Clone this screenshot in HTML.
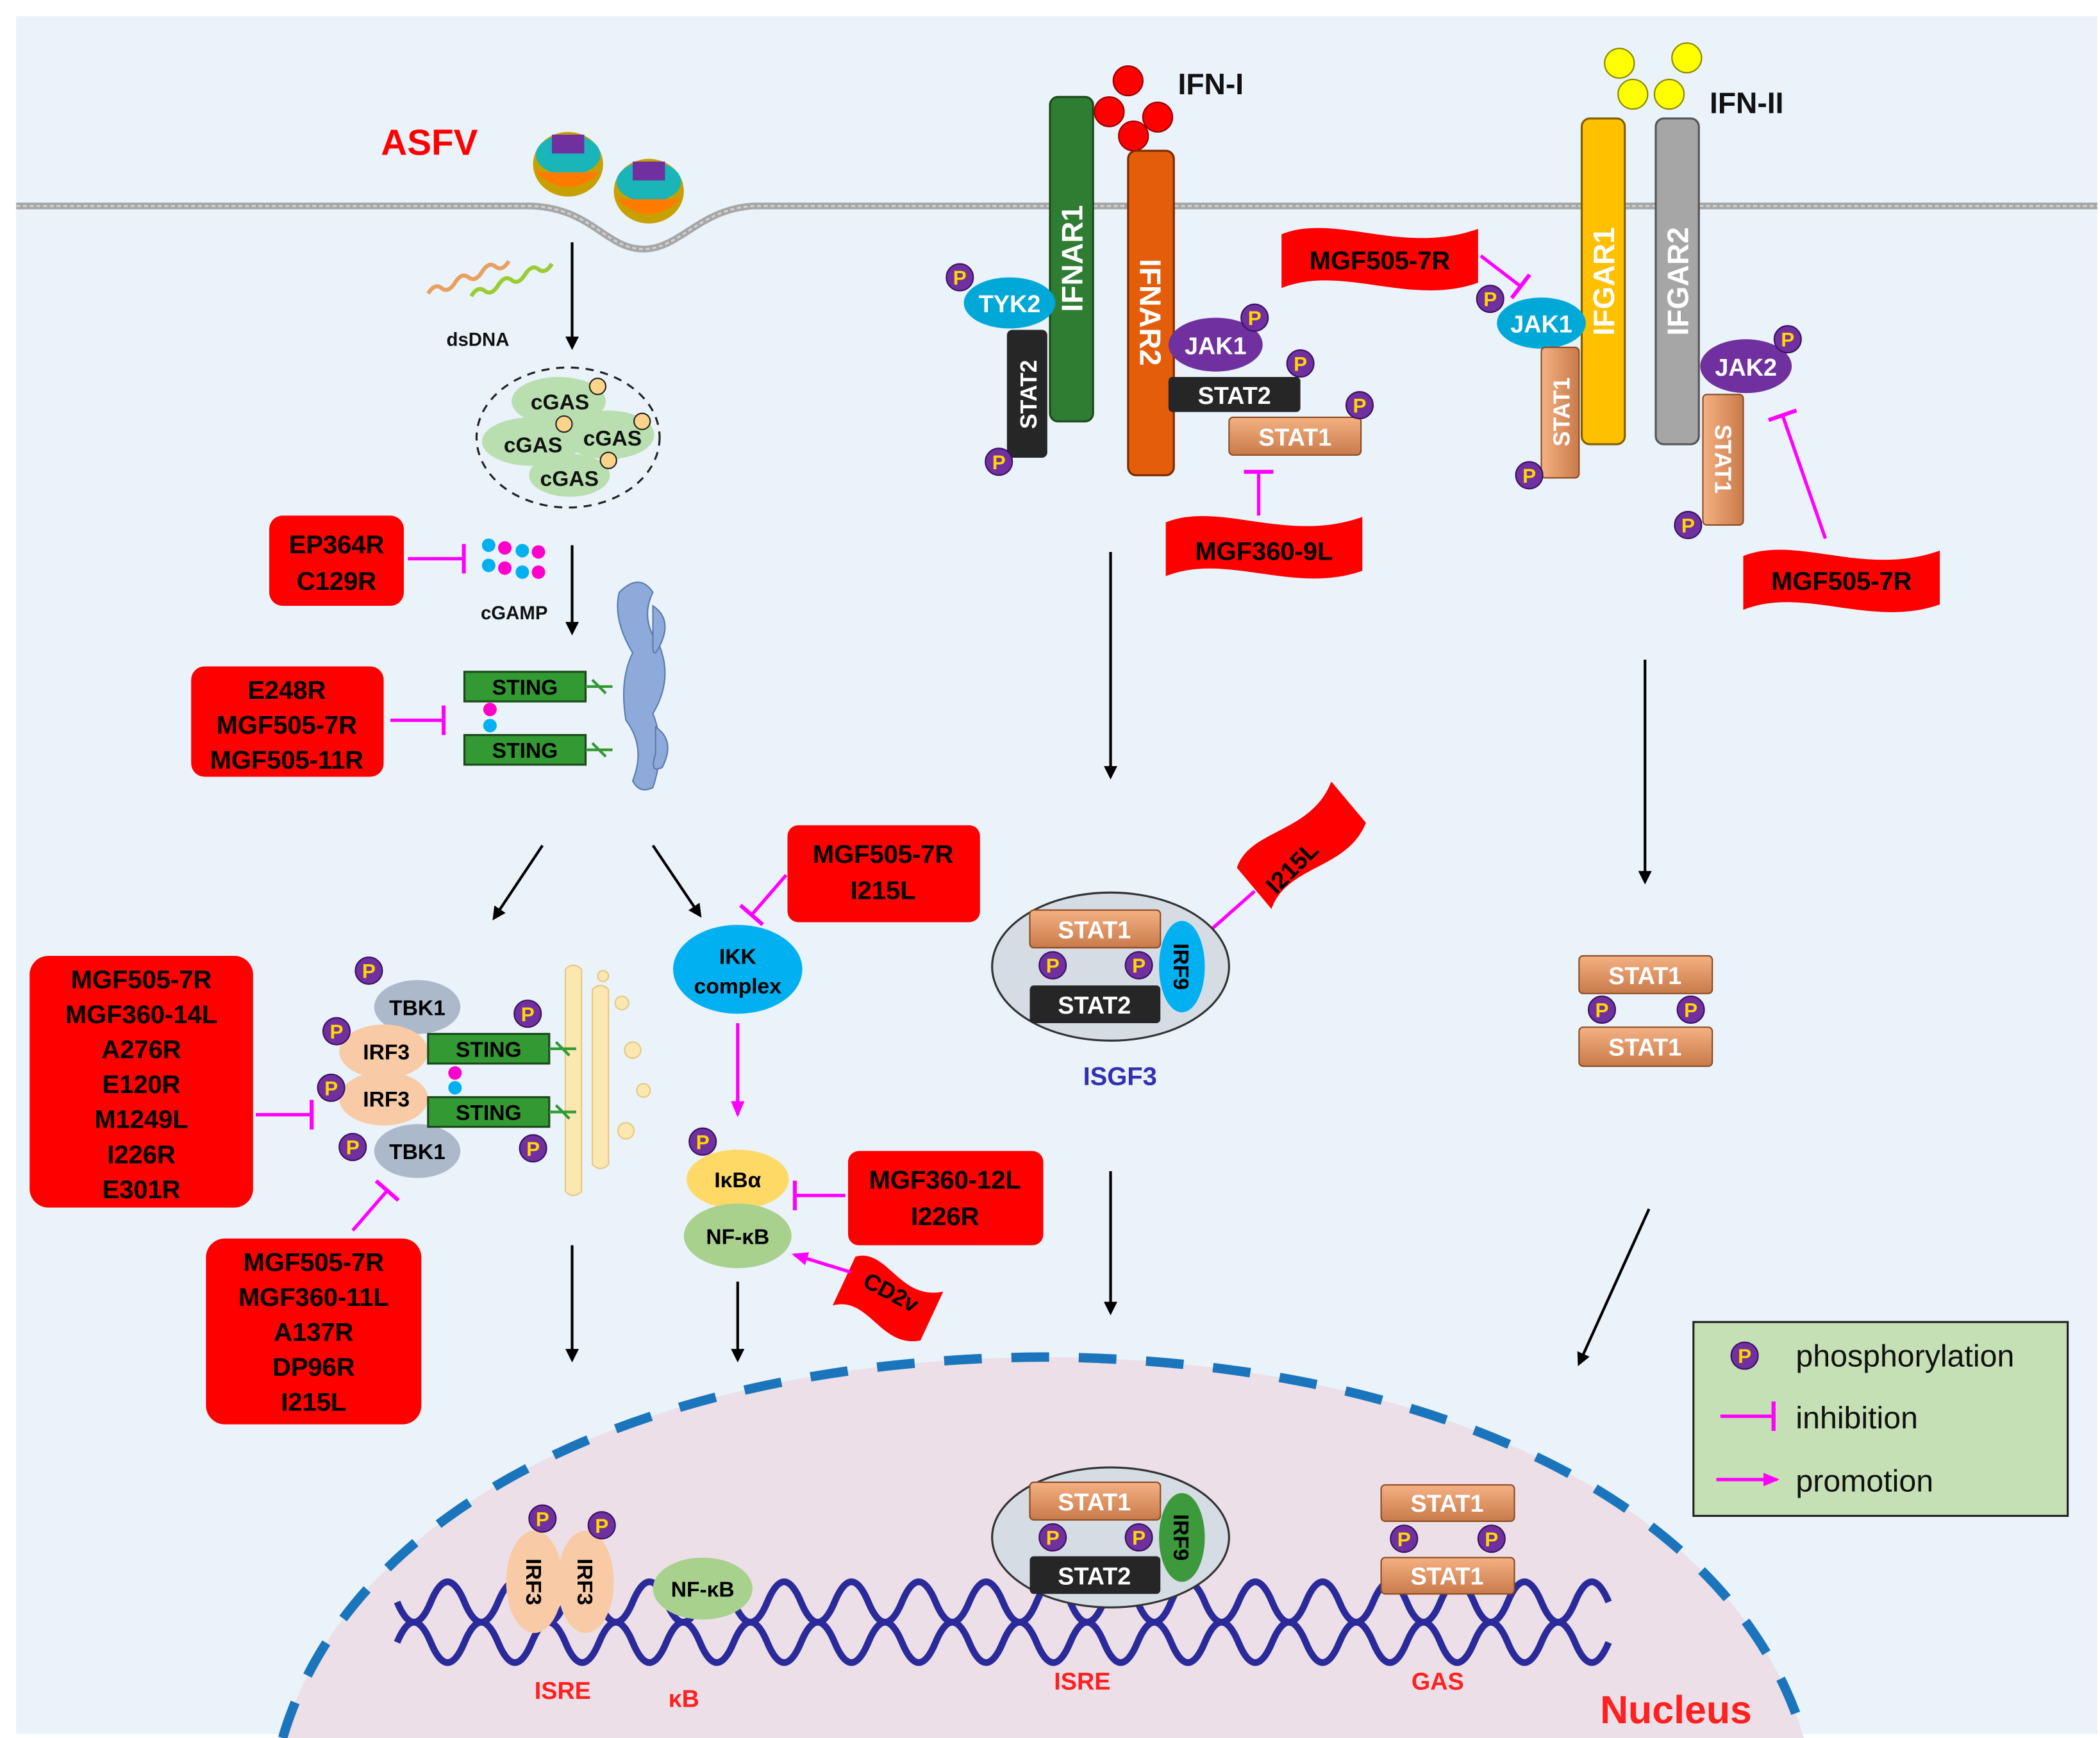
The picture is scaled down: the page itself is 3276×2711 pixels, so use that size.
<!DOCTYPE html>
<html><head><meta charset="utf-8"><style>
html,body{margin:0;padding:0;background:#fff}
svg{display:block}
text{font-family:"Liberation Sans",Arial,sans-serif;font-weight:bold}
</style></head><body>
<svg width="3276" height="2711" viewBox="0 0 1560 1291" preserveAspectRatio="none" xmlns="http://www.w3.org/2000/svg">
<defs>
<marker id="ab" markerWidth="10" markerHeight="10" refX="8" refY="5" orient="auto" markerUnits="userSpaceOnUse"><path d="M0,0 L10,5 L0,10 Z" fill="#000"/></marker>
<marker id="am" markerWidth="12" markerHeight="10" refX="10" refY="5" orient="auto" markerUnits="userSpaceOnUse"><path d="M0,0 L12,5 L0,10 Z" fill="#ff00ff"/></marker>
<marker id="bar" markerWidth="4" markerHeight="22" refX="2" refY="11" orient="auto" markerUnits="userSpaceOnUse"><rect x="0" y="0" width="3" height="22" fill="#ff00ff"/></marker>
<linearGradient id="st1" x1="0" y1="0" x2="0" y2="1"><stop offset="0" stop-color="#f4b183"/><stop offset="1" stop-color="#c97a4a"/></linearGradient>
<linearGradient id="st1v" x1="0" y1="0" x2="1" y2="0"><stop offset="0" stop-color="#f4b183"/><stop offset="1" stop-color="#c97a4a"/></linearGradient>
<g id="P"><circle r="10" fill="#7030a0" stroke="#3a1060" stroke-width="1"/><text x="0" y="5.5" font-size="15" fill="#ffd700" text-anchor="middle">P</text></g>
<path id="flag" d="M0,6 C40,-10 90,22 146,2 L146,42 C95,60 45,28 0,46 Z" fill="#ff0000"/>
</defs>
<rect x="12" y="12" width="1546" height="1276" fill="#eaf2fa"/>
<!-- nucleus -->
<path d="M210,1291 C260,1120 480,1010 775,1008 C1070,1010 1290,1120 1340,1291 Z" fill="#ecdfe7"/>
<path d="M210,1291 C260,1120 480,1010 775,1008 C1070,1010 1290,1120 1340,1291" fill="none" stroke="#1a75bc" stroke-width="7" stroke-dasharray="28,22"/>
<!-- membrane -->
<path d="M12,153 L395,153 C440,155 450,185 478,185 C505,185 520,155 560,153 L1558,153" fill="none" stroke="#a6a6a6" stroke-width="5"/>
<path d="M12,153 L395,153 C440,155 450,185 478,185 C505,185 520,155 560,153 L1558,153" fill="none" stroke="#d0d0d0" stroke-width="1.5" stroke-dasharray="3,2"/>
<text x="283" y="115" font-size="27" fill="#ff0000">ASFV</text>
<!-- viruses -->
<g><ellipse cx="422" cy="122" rx="26" ry="24" fill="#c8a000"/><ellipse cx="422" cy="115" rx="24" ry="15" fill="#19b5b8"/><rect x="410" y="100" width="24" height="14" fill="#7030a0"/><path d="M398,128 Q422,150 446,128" fill="#ff7b00"/></g>
<g><ellipse cx="482" cy="142" rx="26" ry="24" fill="#c8a000"/><ellipse cx="482" cy="135" rx="24" ry="15" fill="#19b5b8"/><rect x="470" y="120" width="24" height="14" fill="#7030a0"/><path d="M458,148 Q482,170 506,148" fill="#ff7b00"/></g>
<!-- dsDNA -->
<path d="M318,218 q5,-8 10,-4 t10,-4 t10,-4 t10,-4 t10,-4 t10,-4" fill="none" stroke="#e8a060" stroke-width="3"/>
<path d="M350,220 q5,-8 10,-4 t10,-4 t10,-4 t10,-4 t10,-4 t10,-4" fill="none" stroke="#9acd32" stroke-width="3"/>
<text x="355" y="257" font-size="14" fill="#111" text-anchor="middle">dsDNA</text>
<line x1="425" y1="180" x2="425" y2="258" stroke="#000" stroke-width="2" marker-end="url(#ab)"/>
<!-- cGAS -->
<ellipse cx="422" cy="325" rx="68" ry="52" fill="none" stroke="#222" stroke-width="1.5" stroke-dasharray="6,5"/>
<ellipse cx="415" cy="298" rx="35" ry="18" fill="#b9dfb0"/><ellipse cx="395" cy="328" rx="37" ry="18" fill="#b9dfb0"/><ellipse cx="452" cy="323" rx="34" ry="18" fill="#b9dfb0"/><ellipse cx="423" cy="353" rx="30" ry="16" fill="#b9dfb0"/>
<text x="416" y="304" font-size="16" fill="#111" text-anchor="middle">cGAS</text>
<text x="396" y="336" font-size="16" fill="#111" text-anchor="middle">cGAS</text>
<text x="455" y="331" font-size="16" fill="#111" text-anchor="middle">cGAS</text>
<text x="423" y="361" font-size="16" fill="#111" text-anchor="middle">cGAS</text>
<g fill="#fbd38a" stroke="#222" stroke-width="1"><circle cx="444" cy="287" r="6"/><circle cx="419" cy="315" r="6"/><circle cx="477" cy="313" r="6"/><circle cx="452" cy="342" r="6"/></g>
<line x1="425" y1="405" x2="425" y2="470" stroke="#000" stroke-width="2" marker-end="url(#ab)"/>
<!-- EP364R -->
<rect x="200" y="383" width="100" height="67" rx="10" fill="#ff0000"/>
<text x="250" y="411" font-size="19" text-anchor="middle">EP364R</text><text x="250" y="438" font-size="19" text-anchor="middle">C129R</text>
<line x1="303" y1="415" x2="345" y2="415" stroke="#ff00ff" stroke-width="2.5" marker-end="url(#bar)"/>
<g><circle cx="363" cy="405" r="5" fill="#00b0f0"/><circle cx="375" cy="407" r="5" fill="#ff00cc"/><circle cx="388" cy="409" r="5" fill="#00b0f0"/><circle cx="400" cy="410" r="5" fill="#ff00cc"/><circle cx="363" cy="420" r="5" fill="#00b0f0"/><circle cx="375" cy="422" r="5" fill="#ff00cc"/><circle cx="388" cy="425" r="5" fill="#00b0f0"/><circle cx="400" cy="425" r="5" fill="#ff00cc"/></g>
<text x="382" y="460" font-size="14" fill="#111" text-anchor="middle">cGAMP</text>
<!-- ER -->
<g fill="#8eaadb" stroke="#5a7ab0" stroke-width="1"><path d="M460,440 q15,-15 25,0 q-10,20 5,40 q10,25 -5,50 q10,25 0,55 q-10,5 -15,-5 q10,-25 -5,-45 q-5,-30 5,-50 q-15,-25 -10,-45z"/><path d="M485,450 q15,10 5,30 q-5,10 -5,0z"/><path d="M487,540 q15,10 5,30 q-10,5 -5,-10z"/></g>
<!-- STING 1 -->
<rect x="345" y="499" width="90" height="22" fill="#339933" stroke="#1a4a1a" stroke-width="1.5"/><text x="390" y="516" font-size="16" text-anchor="middle">STING</text>
<rect x="345" y="546" width="90" height="22" fill="#339933" stroke="#1a4a1a" stroke-width="1.5"/><text x="390" y="563" font-size="16" text-anchor="middle">STING</text>
<path d="M435,510 l20,0 M440,505 l10,10 M435,557 l20,0 M440,552 l10,10" stroke="#339933" stroke-width="2"/>
<circle cx="364" cy="527" r="5" fill="#ff00cc"/><circle cx="364" cy="539" r="5" fill="#00b0f0"/>
<rect x="142" y="495" width="143" height="82" rx="10" fill="#ff0000"/>
<text x="213" y="519" font-size="19" text-anchor="middle">E248R</text><text x="213" y="545" font-size="19" text-anchor="middle">MGF505-7R</text><text x="213" y="571" font-size="19" text-anchor="middle">MGF505-11R</text>
<line x1="290" y1="535" x2="330" y2="535" stroke="#ff00ff" stroke-width="2.5" marker-end="url(#bar)"/>
<line x1="403" y1="628" x2="367" y2="682" stroke="#000" stroke-width="2" marker-end="url(#ab)"/>
<line x1="485" y1="628" x2="520" y2="680" stroke="#000" stroke-width="2" marker-end="url(#ab)"/>
<!-- IKK -->
<rect x="585" y="613" width="143" height="72" rx="8" fill="#ff0000"/>
<text x="656" y="641" font-size="19" text-anchor="middle">MGF505-7R</text><text x="656" y="668" font-size="19" text-anchor="middle">I215L</text>
<line x1="584" y1="650" x2="558" y2="680" stroke="#ff00ff" stroke-width="2.5" marker-end="url(#bar)"/>
<ellipse cx="548" cy="720" rx="48" ry="33" fill="#00b0f0"/>
<text x="548" y="716" font-size="16" text-anchor="middle">IKK</text><text x="548" y="738" font-size="16" text-anchor="middle">complex</text>
<line x1="548" y1="760" x2="548" y2="828" stroke="#ff00ff" stroke-width="2.5" marker-end="url(#am)"/>
<ellipse cx="548" cy="876" rx="38" ry="22" fill="#ffd966"/><text x="548" y="882" font-size="16" text-anchor="middle">IκBα</text>
<ellipse cx="548" cy="918" rx="40" ry="24" fill="#a9d18e"/><text x="548" y="924" font-size="16" text-anchor="middle">NF-κB</text>
<use href="#P" x="522" y="848"/>
<rect x="630" y="855" width="145" height="70" rx="8" fill="#ff0000"/>
<text x="702" y="883" font-size="19" text-anchor="middle">MGF360-12L</text><text x="702" y="910" font-size="19" text-anchor="middle">I226R</text>
<line x1="628" y1="888" x2="590" y2="888" stroke="#ff00ff" stroke-width="2.5" marker-end="url(#bar)"/>
<g transform="translate(638,928) rotate(25) scale(0.48,1)"><use href="#flag"/></g>
<text x="0" y="0" font-size="17" transform="translate(640,955) rotate(28)">CD2v</text>
<line x1="632" y1="945" x2="590" y2="932" stroke="#ff00ff" stroke-width="2.5" marker-end="url(#am)"/>
<line x1="548" y1="952" x2="548" y2="1010" stroke="#000" stroke-width="2" marker-end="url(#ab)"/>
<line x1="425" y1="925" x2="425" y2="1010" stroke="#000" stroke-width="2" marker-end="url(#ab)"/>
<!-- left TBK1 complex -->
<g fill="#fbe7b0" stroke="#e8c880" stroke-width="1"><path d="M420,720 q6,-6 12,0 l0,165 q-6,6 -12,0z"/><path d="M440,735 q6,-6 12,0 l0,130 q-6,6 -12,0z"/><circle cx="462" cy="745" r="5"/><circle cx="470" cy="780" r="6"/><circle cx="478" cy="810" r="5"/><circle cx="465" cy="840" r="6"/><circle cx="448" cy="725" r="4"/></g>
<ellipse cx="310" cy="748" rx="32" ry="20" fill="#acb9ca"/><text x="310" y="754" font-size="16" text-anchor="middle">TBK1</text>
<ellipse cx="285" cy="781" rx="33" ry="20" fill="#f8cba6"/><text x="287" y="787" font-size="16" text-anchor="middle">IRF3</text>
<ellipse cx="285" cy="816" rx="33" ry="20" fill="#f8cba6"/><text x="287" y="822" font-size="16" text-anchor="middle">IRF3</text>
<ellipse cx="310" cy="855" rx="32" ry="20" fill="#acb9ca"/><text x="310" y="861" font-size="16" text-anchor="middle">TBK1</text>
<rect x="318" y="768" width="90" height="22" fill="#339933" stroke="#1a4a1a" stroke-width="1.5"/><text x="363" y="785" font-size="16" text-anchor="middle">STING</text>
<rect x="318" y="815" width="90" height="22" fill="#339933" stroke="#1a4a1a" stroke-width="1.5"/><text x="363" y="832" font-size="16" text-anchor="middle">STING</text>
<path d="M408,779 l20,0 M413,774 l10,10 M408,826 l20,0 M413,821 l10,10" stroke="#339933" stroke-width="2"/>
<circle cx="338" cy="797" r="5" fill="#ff00cc"/><circle cx="338" cy="808" r="5" fill="#00b0f0"/>
<use href="#P" x="274" y="721"/><use href="#P" x="250" y="766"/><use href="#P" x="246" y="808"/><use href="#P" x="262" y="852"/><use href="#P" x="392" y="753"/><use href="#P" x="396" y="853"/>
<rect x="22" y="710" width="166" height="187" rx="14" fill="#ff0000"/>
<g font-size="19" text-anchor="middle"><text x="105" y="734">MGF505-7R</text><text x="105" y="760">MGF360-14L</text><text x="105" y="786">A276R</text><text x="105" y="812">E120R</text><text x="105" y="838">M1249L</text><text x="105" y="864">I226R</text><text x="105" y="890">E301R</text></g>
<line x1="190" y1="828" x2="232" y2="828" stroke="#ff00ff" stroke-width="2.5" marker-end="url(#bar)"/>
<rect x="153" y="920" width="160" height="138" rx="14" fill="#ff0000"/>
<g font-size="19" text-anchor="middle"><text x="233" y="944">MGF505-7R</text><text x="233" y="970">MGF360-11L</text><text x="233" y="996">A137R</text><text x="233" y="1022">DP96R</text><text x="233" y="1048">I215L</text></g>
<line x1="262" y1="914" x2="288" y2="884" stroke="#ff00ff" stroke-width="2.5" marker-end="url(#bar)"/>
<!-- IFN-I -->
<g fill="#ff0000" stroke="#900" stroke-width="1"><circle cx="838" cy="60" r="11"/><circle cx="824" cy="83" r="11"/><circle cx="860" cy="87" r="11"/><circle cx="842" cy="101" r="11"/></g>
<text x="875" y="70" font-size="22" fill="#111">IFN-I</text>
<rect x="780" y="72" width="32" height="241" rx="6" fill="#2e7d32" stroke="#1a4a1a" stroke-width="1.5"/>
<text transform="translate(804,192) rotate(-90)" font-size="22" fill="#fff" text-anchor="middle">IFNAR1</text>
<rect x="838" y="112" width="34" height="241" rx="6" fill="#e35d0a" stroke="#7a2a00" stroke-width="1.5"/>
<text transform="translate(847,232) rotate(90)" font-size="22" fill="#fff" text-anchor="middle">IFNAR2</text>
<ellipse cx="750" cy="225" rx="34" ry="19" fill="#00a8d8"/><text x="750" y="232" font-size="18" fill="#fff" text-anchor="middle">TYK2</text>
<rect x="748" y="245" width="30" height="95" rx="4" fill="#262626"/>
<text transform="translate(770,293) rotate(-90)" font-size="17" fill="#fff" text-anchor="middle">STAT2</text>
<use href="#P" x="713" y="206"/><use href="#P" x="742" y="343"/>
<ellipse cx="903" cy="256" rx="35" ry="20" fill="#7030a0"/><text x="903" y="263" font-size="18" fill="#fff" text-anchor="middle">JAK1</text>
<use href="#P" x="932" y="236"/>
<rect x="868" y="280" width="98" height="26" rx="3" fill="#262626"/><text x="917" y="300" font-size="18" fill="#fff" text-anchor="middle">STAT2</text>
<use href="#P" x="966" y="270"/>
<rect x="913" y="310" width="98" height="28" rx="3" fill="url(#st1)" stroke="#8a4a20" stroke-width="1"/><text x="962" y="331" font-size="18" fill="#fff" text-anchor="middle">STAT1</text>
<use href="#P" x="1010" y="301"/>
<g transform="translate(866,382)"><use href="#flag"/></g>
<text x="939" y="416" font-size="19" text-anchor="middle">MGF360-9L</text>
<line x1="935" y1="383" x2="935" y2="350" stroke="#ff00ff" stroke-width="2.5" marker-end="url(#bar)"/>
<line x1="825" y1="410" x2="825" y2="577" stroke="#000" stroke-width="2" marker-end="url(#ab)"/>
<!-- I215L flag -->
<g transform="translate(915,640) rotate(-40) scale(0.65,1)"><use href="#flag"/></g>
<text transform="translate(948,665) rotate(-45)" font-size="18">I215L</text>
<line x1="932" y1="662" x2="898" y2="692" stroke="#ff00ff" stroke-width="2.5" marker-end="url(#bar)"/>
<!-- ISGF3 -->
<ellipse cx="825" cy="718" rx="88" ry="55" fill="#d6dce4" stroke="#333" stroke-width="1.5"/>
<rect x="765" y="676" width="97" height="28" rx="3" fill="url(#st1)" stroke="#8a4a20"/><text x="813" y="697" font-size="18" fill="#fff" text-anchor="middle">STAT1</text>
<rect x="765" y="732" width="97" height="28" rx="3" fill="#262626"/><text x="813" y="753" font-size="18" fill="#fff" text-anchor="middle">STAT2</text>
<ellipse cx="878" cy="718" rx="17" ry="34" fill="#00b0f0"/><text transform="translate(872,718) rotate(90)" font-size="16" text-anchor="middle">IRF9</text>
<use href="#P" x="782" y="717"/><use href="#P" x="846" y="717"/>
<text x="832" y="806" font-size="19" fill="#3030b0" text-anchor="middle">ISGF3</text>
<line x1="825" y1="870" x2="825" y2="975" stroke="#000" stroke-width="2" marker-end="url(#ab)"/>
<!-- IFN-II -->
<g fill="#ffff00" stroke="#888800" stroke-width="1"><circle cx="1203" cy="47" r="11"/><circle cx="1253" cy="43" r="11"/><circle cx="1213" cy="70" r="11"/><circle cx="1240" cy="70" r="11"/></g>
<text x="1270" y="84" font-size="22" fill="#111">IFN-II</text>
<rect x="1175" y="88" width="32" height="242" rx="6" fill="#ffc000" stroke="#806000" stroke-width="1.5"/>
<text transform="translate(1199,209) rotate(-90)" font-size="22" fill="#fff" text-anchor="middle">IFGAR1</text>
<rect x="1230" y="88" width="32" height="242" rx="6" fill="#a6a6a6" stroke="#555" stroke-width="1.5"/>
<text transform="translate(1254,209) rotate(-90)" font-size="22" fill="#fff" text-anchor="middle">IFGAR2</text>
<g transform="translate(952,168)"><use href="#flag"/></g>
<text x="1025" y="200" font-size="19" text-anchor="middle">MGF505-7R</text>
<line x1="1100" y1="190" x2="1130" y2="213" stroke="#ff00ff" stroke-width="2.5" marker-end="url(#bar)"/>
<ellipse cx="1145" cy="240" rx="33" ry="19" fill="#00a8d8"/><text x="1145" y="247" font-size="18" fill="#fff" text-anchor="middle">JAK1</text>
<use href="#P" x="1107" y="222"/>
<rect x="1145" y="258" width="28" height="97" rx="3" fill="url(#st1v)" stroke="#8a4a20"/>
<text transform="translate(1166,306) rotate(-90)" font-size="17" fill="#fff" text-anchor="middle">STAT1</text>
<use href="#P" x="1136" y="353"/>
<ellipse cx="1297" cy="272" rx="34" ry="20" fill="#7030a0"/><text x="1297" y="279" font-size="18" fill="#fff" text-anchor="middle">JAK2</text>
<use href="#P" x="1328" y="252"/>
<rect x="1265" y="293" width="30" height="97" rx="3" fill="url(#st1v)" stroke="#8a4a20"/>
<text transform="translate(1274,341) rotate(90)" font-size="17" fill="#fff" text-anchor="middle">STAT1</text>
<use href="#P" x="1254" y="390"/>
<g transform="translate(1295,407)"><use href="#flag"/></g>
<text x="1368" y="438" font-size="19" text-anchor="middle">MGF505-7R</text>
<line x1="1356" y1="400" x2="1324" y2="308" stroke="#ff00ff" stroke-width="2.5" marker-end="url(#bar)"/>
<line x1="1222" y1="490" x2="1222" y2="655" stroke="#000" stroke-width="2" marker-end="url(#ab)"/>
<rect x="1173" y="710" width="99" height="28" rx="3" fill="url(#st1)" stroke="#8a4a20"/><text x="1222" y="731" font-size="18" fill="#fff" text-anchor="middle">STAT1</text>
<rect x="1173" y="763" width="99" height="29" rx="3" fill="url(#st1)" stroke="#8a4a20"/><text x="1222" y="784" font-size="18" fill="#fff" text-anchor="middle">STAT1</text>
<use href="#P" x="1190" y="750"/><use href="#P" x="1256" y="750"/>
<line x1="1225" y1="898" x2="1173" y2="1013" stroke="#000" stroke-width="2" marker-end="url(#ab)"/>
<!-- legend -->
<rect x="1258" y="982" width="278" height="144" fill="#c5e0b4" stroke="#222" stroke-width="1.5"/>
<use href="#P" x="1296" y="1007"/>
<text x="1334" y="1015" font-size="23" fill="#111" font-weight="normal" style="font-weight:normal">phosphorylation</text>
<line x1="1278" y1="1052" x2="1318" y2="1052" stroke="#ff00ff" stroke-width="2.5" marker-end="url(#bar)"/>
<text x="1334" y="1061" font-size="23" fill="#111" style="font-weight:normal">inhibition</text>
<line x1="1275" y1="1099" x2="1320" y2="1099" stroke="#ff00ff" stroke-width="2.5" marker-end="url(#am)"/>
<text x="1334" y="1108" font-size="23" fill="#111" style="font-weight:normal">promotion</text>
<!-- DNA helix -->
<path d="M295,1190 q12.5,30 25,0 t25,0 t25,0 t25,0 t25,0 t25,0 t25,0 t25,0 t25,0 t25,0 t25,0 t25,0 t25,0 t25,0 t25,0 t25,0 t25,0 t25,0 t25,0 t25,0 t25,0 t25,0 t25,0 t25,0 t25,0 t25,0 t25,0 t25,0 t25,0 t25,0 t25,0 t25,0 t25,0 t25,0 t25,0 t25,0" fill="none" stroke="#2a2a9a" stroke-width="5"/>
<path d="M295,1220 q12.5,-30 25,0 t25,0 t25,0 t25,0 t25,0 t25,0 t25,0 t25,0 t25,0 t25,0 t25,0 t25,0 t25,0 t25,0 t25,0 t25,0 t25,0 t25,0 t25,0 t25,0 t25,0 t25,0 t25,0 t25,0 t25,0 t25,0 t25,0 t25,0 t25,0 t25,0 t25,0 t25,0 t25,0 t25,0 t25,0 t25,0" fill="none" stroke="#2a2a9a" stroke-width="5"/>
<ellipse cx="397" cy="1175" rx="21" ry="38" fill="#f8cba6"/><ellipse cx="435" cy="1175" rx="21" ry="38" fill="#f8cba6"/>
<text transform="translate(391,1175) rotate(90)" font-size="16" text-anchor="middle">IRF3</text>
<text transform="translate(429,1175) rotate(90)" font-size="16" text-anchor="middle">IRF3</text>
<use href="#P" x="403" y="1128"/><use href="#P" x="447" y="1133"/>
<ellipse cx="522" cy="1180" rx="37" ry="23" fill="#a9d18e"/><text x="522" y="1186" font-size="16" text-anchor="middle">NF-κB</text>
<ellipse cx="825" cy="1142" rx="88" ry="52" fill="#d6dce4" stroke="#333" stroke-width="1.5"/>
<rect x="765" y="1101" width="97" height="28" rx="3" fill="url(#st1)" stroke="#8a4a20"/><text x="813" y="1122" font-size="18" fill="#fff" text-anchor="middle">STAT1</text>
<rect x="765" y="1156" width="97" height="28" rx="3" fill="#262626"/><text x="813" y="1177" font-size="18" fill="#fff" text-anchor="middle">STAT2</text>
<ellipse cx="878" cy="1142" rx="17" ry="33" fill="#3c9a3c"/><text transform="translate(872,1142) rotate(90)" font-size="16" text-anchor="middle">IRF9</text>
<use href="#P" x="782" y="1142"/><use href="#P" x="846" y="1142"/>
<rect x="1026" y="1103" width="99" height="27" rx="3" fill="url(#st1)" stroke="#8a4a20"/><text x="1075" y="1123" font-size="18" fill="#fff" text-anchor="middle">STAT1</text>
<rect x="1026" y="1157" width="99" height="27" rx="3" fill="url(#st1)" stroke="#8a4a20"/><text x="1075" y="1177" font-size="18" fill="#fff" text-anchor="middle">STAT1</text>
<use href="#P" x="1043" y="1143"/><use href="#P" x="1108" y="1143"/>
<g font-size="18" fill="#ff2020" text-anchor="middle"><text x="418" y="1262">ISRE</text><text x="508" y="1268">κB</text><text x="804" y="1255">ISRE</text><text x="1068" y="1255">GAS</text></g>
<text x="1245" y="1280" font-size="29" fill="#ff2020" text-anchor="middle">Nucleus</text>
</svg>
</body></html>
